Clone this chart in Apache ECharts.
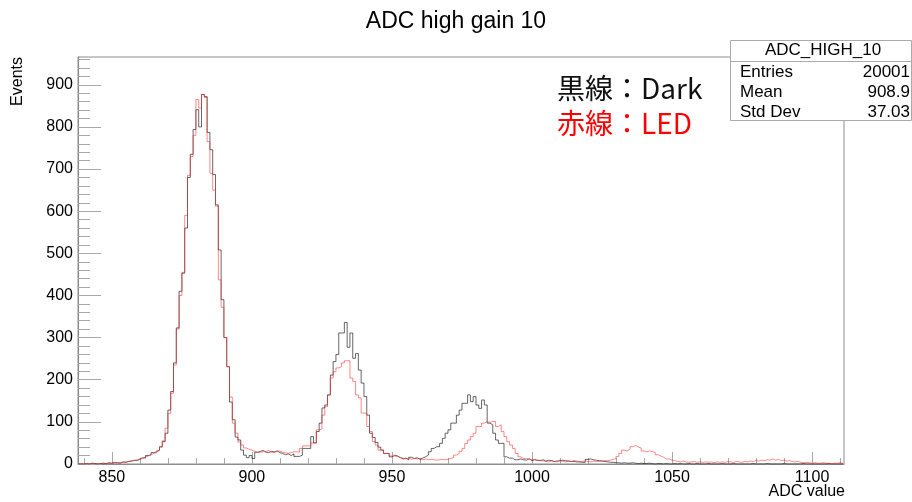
<!DOCTYPE html>
<html>
<head>
<meta charset="utf-8">
<script src="https://cdn.jsdelivr.net/npm/echarts@6/dist/echarts.min.js"></script>
<style>html,body{margin:0;padding:0;background:#fff}#c{width:912px;height:502px}</style>
</head>
<body>
<div id="c"></div>
<script>
// ---- data ----
const binStart = 838; // first bin low edge, bin width 1
const darkCounts = [
0,0,1,0,2,1,0,1,2,1,
3,2,4,3,2,5,4,6,7,9,
8,12,15,14,20,22,27,29,33,41,
53,73,128,172,240,323,410,453,560,680,
735,794,841,800,877,872,787,746,687,615,
508,390,300,231,147,105,64,57,33,21,
15,20,13,28,30,32,28,27,30,29,
31,27,25,22,24,20,24,18,18,21,
37,37,37,65,50,77,97,133,140,164,
211,243,260,311,311,336,277,311,251,262,
223,192,160,116,73,63,51,40,33,25,
25,17,21,19,15,12,14,10,16,13,
15,11,14,17,21,29,37,41,41,49,
61,73,81,97,97,116,128,144,144,164,
148,160,140,132,152,140,97,93,73,57,
49,49,17,14,14,10,10,12,10,9,
12,8,10,9,8,10,7,9,8,6,
7,8,9,8,7,6,6,5,5,4,
4,11,12,10,9,8,7,6,5,4,
4,3,3,2,3,2,2,3,2,1,
2,1,1,2,1,0,1,1,0,1,
0,0,1,0,1,0,0,1,0,0,
1,0,0,0,1,0,0,0,0,1,
0,0,0,1,0,0,0,0,0,0,
1,0,0,0,0,1,0,0,0,0,
0,1,0,0,0,0,0,0,1,0,
0,0,0,0,0,0,0,1,0,0,
0,0,0
];
const ledCounts = [
0,0,0,0,1,0,0,1,0,1,
2,1,2,3,3,4,5,6,7,8,
10,11,13,17,19,22,25,27,32,40,
55,85,120,168,235,320,400,455,590,685,
730,780,865,845,877,870,765,690,650,612,
437,372,300,231,159,97,73,52,45,38,
35,33,30,27,28,29,30,32,28,27,
30,31,28,27,25,27,29,29,28,37,
43,43,43,50,50,81,83,116,136,164,
204,219,228,231,240,245,245,204,196,164,
157,121,121,89,77,53,45,33,33,25,
25,19,19,18,16,13,12,14,11,13,
12,13,10,12,10,11,10,9,10,11,
10,11,13,15,21,25,30,37,49,57,
65,73,89,89,97,101,99,101,101,89,
93,77,65,53,45,37,25,17,13,13,
12,10,11,8,9,7,6,5,7,6,
5,8,6,5,7,6,8,7,5,6,
7,6,5,7,6,6,7,8,8,9,
11,13,18,25,33,31,35,41,44,40,
38,31,29,31,30,27,22,19,16,12,
12,9,8,6,5,7,5,4,5,6,
4,5,4,5,4,5,3,5,4,5,
4,6,5,4,6,5,4,6,5,7,
6,8,7,9,8,10,9,12,9,11,
8,9,7,8,6,5,6,4,3,4,
3,2,3,2,2,3,2,2,1,2,
2,3,2
];
const xMajorTicks = [850, 900, 950, 1000, 1050, 1100];
const xMinorTicks = [840,850,860,870,880,890,900,910,920,930,940,950,960,970,980,990,1000,1010,1020,1030,1040,1050,1060,1070,1080,1090,1100,1110];
const yMajorTicks = [0,100,200,300,400,500,600,700,800,900];
const yMinorTicks = [20,40,60,80,120,140,160,180,220,240,260,280,320,340,360,380,420,440,460,480,520,540,560,580,620,640,660,680,720,740,760,780,820,840,860,880,920,940,960];
const titleText = 'ADC high gain 10';
const statsName = 'ADC_HIGH_10';
const statsRows = [['Entries','20001'],['Mean','908.9'],['Std Dev','37.03']];

function toSteps(counts){
  const pts = counts.map((v,i)=>[binStart+i, v]);
  pts.push([binStart+counts.length, counts[counts.length-1]]);
  return pts;
}

const FONT = 'Liberation Sans, Arial, Helvetica, sans-serif';
const chart = echarts.init(document.getElementById('c'), null, {renderer:'canvas'});
const axisGray = '#8c8c8c';
const tickGray = '#a8a8a8';
const xMin = 837.9, xMax = 1111.4, yMax = 966;
const plain = v => String(v);

const graphics = [
  {type:'text', z:100, x:456, y:22, style:{text:titleText, font:'23px '+FONT, fill:'#000', textAlign:'center', textVerticalAlign:'middle'}},
  {type:'text', z:100, x:18, y:57, rotation:Math.PI/2, style:{text:'Events', font:'16px '+FONT, fill:'#000', textAlign:'right', textVerticalAlign:'middle'}},
  {type:'text', z:100, x:845, y:492, style:{text:'ADC value', font:'16px '+FONT, fill:'#000', textAlign:'right', textVerticalAlign:'middle'}},
  {type:'rect', z:100, shape:{x:730.5, y:40.5, width:181, height:80}, style:{fill:'#fff', stroke:'#aaa', lineWidth:1}},
  {type:'line', z:101, shape:{x1:730.5, y1:61.5, x2:912, y2:61.5}, style:{stroke:'#aaa', lineWidth:1}},
  {type:'text', z:102, x:823, y:50, style:{text:statsName, font:'17px '+FONT, fill:'#000', textAlign:'center', textVerticalAlign:'middle'}},
  {type:'text', z:102, x:557, y:88, style:{text:'黒線：Dark', font:'28px "Noto Sans CJK JP"', fill:'#111', textAlign:'left', textVerticalAlign:'middle'}},
  {type:'text', z:102, x:557, y:123, style:{text:'赤線：LED', font:'28px "Noto Sans CJK JP"', fill:'#ff0000', textAlign:'left', textVerticalAlign:'middle'}}
];
statsRows.forEach((r,i)=>{
  const y = 72 + i*20;
  graphics.push({type:'text', z:102, x:740, y:y, style:{text:r[0], font:'17px '+FONT, fill:'#000', textAlign:'left', textVerticalAlign:'middle'}});
  graphics.push({type:'text', z:102, x:910, y:y, style:{text:r[1], font:'17px '+FONT, fill:'#000', textAlign:'right', textVerticalAlign:'middle'}});
});

chart.setOption({
  animation:false,
  backgroundColor:'#fff',
  grid:{left:78, top:57, width:766, height:407, show:true, borderColor:axisGray, borderWidth:1, backgroundColor:'transparent'},
  xAxis:[
    {type:'value', min:xMin, max:xMax, position:'bottom',
     axisLine:{show:true, onZero:false, lineStyle:{color:axisGray}},
     axisTick:{show:true, inside:true, length:12, customValues:xMajorTicks, lineStyle:{color:tickGray}},
     axisLabel:{show:true, customValues:xMajorTicks, formatter:plain, fontSize:16, fontFamily:FONT, color:'#000', margin:6},
     splitLine:{show:false}},
    {type:'value', min:xMin, max:xMax, position:'bottom',
     axisLine:{show:false}, axisTick:{show:true, inside:true, length:6, customValues:xMinorTicks, lineStyle:{color:tickGray}},
     axisLabel:{show:false}, splitLine:{show:false}}
  ],
  yAxis:[
    {type:'value', min:0, max:yMax, position:'left',
     axisLine:{show:true, onZero:false, lineStyle:{color:axisGray}},
     axisTick:{show:true, inside:true, length:23, customValues:yMajorTicks, lineStyle:{color:tickGray}},
     axisLabel:{show:true, customValues:yMajorTicks, formatter:plain, fontSize:16, fontFamily:FONT, color:'#000', margin:5},
     splitLine:{show:false}},
    {type:'value', min:0, max:yMax, position:'left',
     axisLine:{show:false}, axisTick:{show:true, inside:true, length:12, customValues:yMinorTicks, lineStyle:{color:tickGray}},
     axisLabel:{show:false}, splitLine:{show:false}}
  ],
  series:[
    {name:'Dark', type:'line', step:'end', xAxisIndex:0, yAxisIndex:0, symbol:'none', silent:true,
     lineStyle:{color:'rgba(0,0,0,0.6)', width:1}, data:toSteps(darkCounts), z:2},
    {name:'LED', type:'line', step:'end', xAxisIndex:0, yAxisIndex:0, symbol:'none', silent:true,
     lineStyle:{color:'rgba(255,40,40,0.55)', width:1}, data:toSteps(ledCounts), z:3}
  ],
  graphic:graphics
});
</script>
</body>
</html>
